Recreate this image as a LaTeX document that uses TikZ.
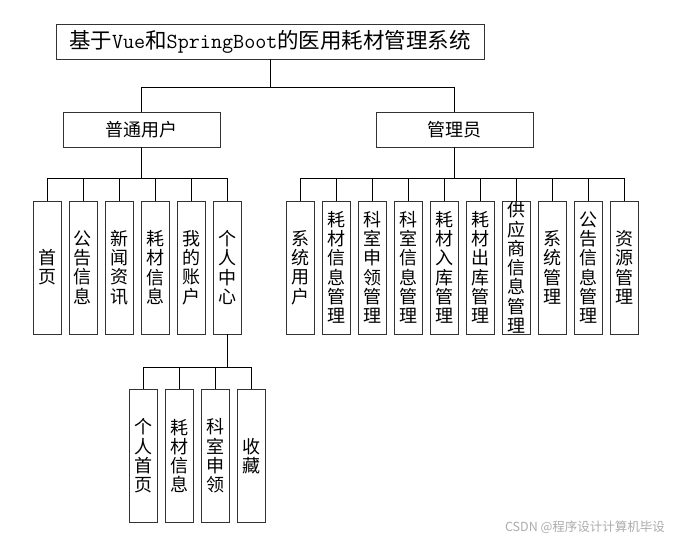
\documentclass[tikz,border=0pt]{standalone}
\usepackage{fontspec}
\setmainfont{Noto Sans CJK SC}
\usetikzlibrary{positioning}

\begin{document}
\begin{tikzpicture}[x=1pt, y=-1pt, font=\fontsize{18}{19.3}\selectfont,
  node distance=7.1pt,
  head/.style={draw=black!80, line width=0.9pt, minimum height=35pt,
    inner sep=0pt},
  leaf/.style={draw=black!80, line width=0.9pt, minimum width=28pt,
    minimum height=133pt, inner sep=0pt, align=center},
  link/.style={line width=0.9pt, black},
  credit/.style={font=\fontsize{12.5}{14}\selectfont, gray!65},
]

\fill[white] (0,0) rectangle (673,540);
\useasboundingbox (0,0) rectangle (673,540);

%% System root
\node[head, minimum width=428pt, font=\fontsize{21.5}{24}\selectfont] (root)
  at (270,41.5) {基于{\ttfamily Vue}和{\ttfamily SpringBoot}的医用耗材管理系统};

%% Roles
\node[head, minimum width=157pt] (user) at (141.5,129.5) {普通用户};
\node[head, minimum width=157pt] (admin) at (454.5,129.5) {管理员};

%% User functions
\node[leaf] (u1) at (47,267.5) {首\\页};
\node[leaf, right=of u1] (u2) {公\\告\\信\\息};
\node[leaf, right=of u2] (u3) {新\\闻\\资\\讯};
\node[leaf, right=of u3] (u4) {耗\\材\\信\\息};
\node[leaf, right=of u4] (u5) {我\\的\\账\\户};
\node[leaf, right=of u5] (u6) {个\\人\\中\\心};

%% Personal centre
\node[leaf] (s1) at (143,456) {个\\人\\首\\页};
\node[leaf, right=of s1] (s2) {耗\\材\\信\\息};
\node[leaf, right=of s2] (s3) {科\\室\\申\\领};
\node[leaf, right=of s3] (s4) {收\\藏};

%% Admin functions
\node[leaf] (a1) at (300,267.5) {系\\统\\用\\户};
\node[leaf, right=of a1] (a2) {耗\\材\\信\\息\\管\\理};
\node[leaf, right=of a2] (a3) {科\\室\\申\\领\\管\\理};
\node[leaf, right=of a3] (a4) {科\\室\\信\\息\\管\\理};
\node[leaf, right=of a4] (a5) {耗\\材\\入\\库\\管\\理};
\node[leaf, right=of a5] (a6) {耗\\材\\出\\库\\管\\理};
\node[leaf, right=of a6] (a7) {供\\应\\商\\信\\息\\管\\理};
\node[leaf, right=of a7] (a8) {系\\统\\管\\理};
\node[leaf, right=of a8] (a9) {公\\告\\信\\息\\管\\理};
\node[leaf, right=of a9] (a10) {资\\源\\管\\理};

%% Tree links
\draw[link] (root.south) -- ++(0,28) -| (user.north);
\draw[link] (root.south) -- ++(0,28) -| (admin.north);

\draw[link] (user.south) -- ++(0,31) -| (u1.north);
\draw[link] (user.south) -- ++(0,31) -| (u2.north);
\draw[link] (user.south) -- ++(0,31) -| (u3.north);
\draw[link] (user.south) -- ++(0,31) -| (u4.north);
\draw[link] (user.south) -- ++(0,31) -| (u5.north);
\draw[link] (user.south) -- ++(0,31) -| (u6.north);

\draw[link] (u6.south) -- ++(0,33) -| (s1.north);
\draw[link] (u6.south) -- ++(0,33) -| (s2.north);
\draw[link] (u6.south) -- ++(0,33) -| (s3.north);
\draw[link] (u6.south) -- ++(0,33) -| (s4.north);

\draw[link] (admin.south) -- ++(0,31) -| (a1.north);
\draw[link] (admin.south) -- ++(0,31) -| (a2.north);
\draw[link] (admin.south) -- ++(0,31) -| (a3.north);
\draw[link] (admin.south) -- ++(0,31) -| (a4.north);
\draw[link] (admin.south) -- ++(0,31) -| (a5.north);
\draw[link] (admin.south) -- ++(0,31) -| (a6.north);
\draw[link] (admin.south) -- ++(0,31) -| (a7.north);
\draw[link] (admin.south) -- ++(0,31) -| (a8.north);
\draw[link] (admin.south) -- ++(0,31) -| (a9.north);
\draw[link] (admin.south) -- ++(0,31) -| (a10.north);

%% Watermark
\node[credit] (mark0) at (585,527) {CSDN @程序设计计算机毕设};

\end{tikzpicture}
\end{document}
